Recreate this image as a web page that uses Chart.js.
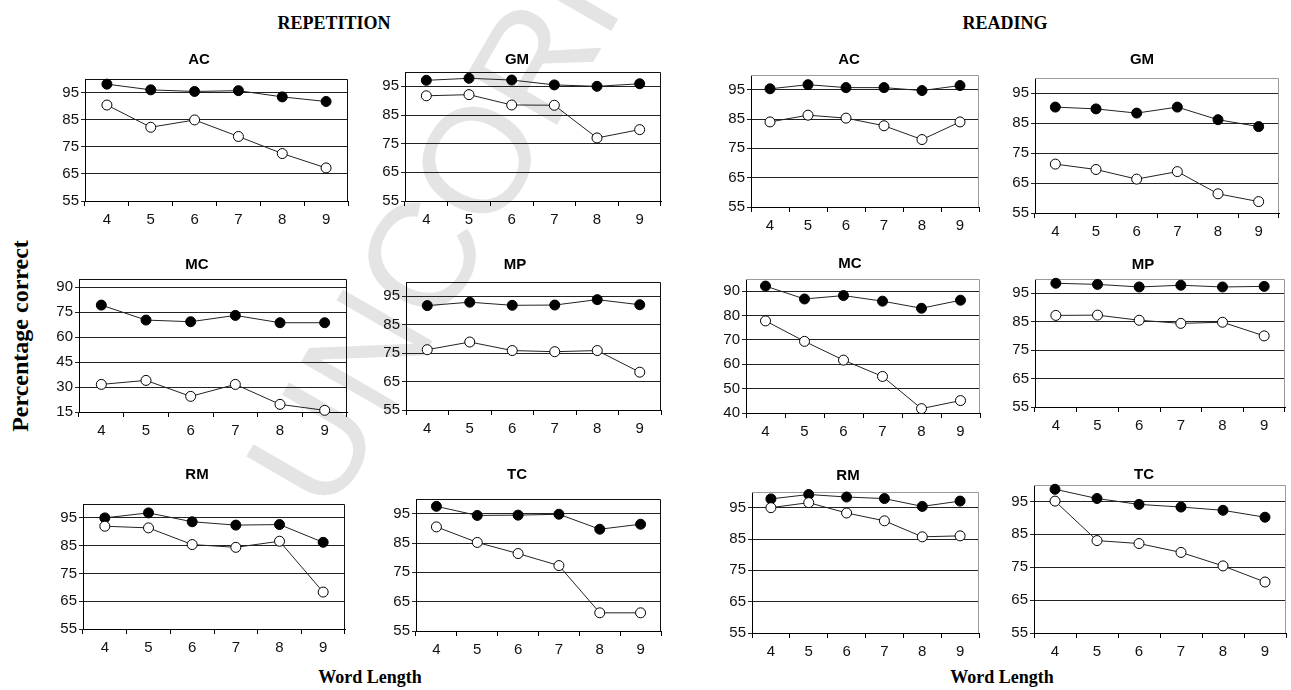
<!DOCTYPE html>
<html>
<head>
<meta charset="utf-8">
<script src="https://cdn.jsdelivr.net/npm/chart.js@4.4.1/dist/chart.umd.min.js"></script>
<style>
  html, body { margin: 0; padding: 0; background: #fff; }
  #page { position: relative; width: 1291px; height: 690px; overflow: hidden; background: #fff; }
  #watermark { position: absolute; left: 0; top: 0; }
  canvas { position: absolute; }
  .lbl { position: absolute; transform: translate(-50%, -50%); white-space: nowrap; line-height: 1; color: #000; }
  .head { font: bold 18px 'Liberation Serif', 'Times New Roman', serif; }
  .ytitle { font: bold 24px 'Liberation Serif', 'Times New Roman', serif; transform: translate(-50%, -50%) rotate(-90deg); }
  .ptitle { font: bold 15px 'Liberation Sans', Arial, sans-serif; }
</style>
</head>
<body>
<div id="page">
  <svg id="watermark" width="1291" height="690">
    <text transform="translate(330,518) rotate(-60)" font-family="Liberation Sans, Arial, sans-serif" font-size="150" fill="#e4e4e4">UNCORRECTED PROOF</text>
  </svg>
  <div class="lbl head" style="left:334px; top:23px;">REPETITION</div>
  <div class="lbl head" style="left:1005px; top:23px;">READING</div>
  <div class="lbl ytitle" style="left:20px; top:336px;">Percentage correct</div>
  <div class="lbl head" style="left:370px; top:677px;">Word Length</div>
  <div class="lbl head" style="left:1002px; top:677px;">Word Length</div>
</div>
<script>
// Word length categories on every x axis
const wordLengths = ['4', '5', '6', '7', '8', '9'];

// Y tick values
const pctTicks = [55, 65, 75, 85, 95];
const repMcTicks = [15, 30, 45, 60, 75, 90];
const readMcTicks = [40, 50, 60, 70, 80, 90];

// Repetition task (filled = solid markers, open = hollow markers)
const repAcFilled = [98.1, 96.0, 95.4, 95.7, 93.4, 91.7];
const repAcOpen   = [90.4, 82.2, 84.9, 78.8, 72.5, 67.2];
const repGmFilled = [97.1, 97.8, 97.2, 95.5, 95.0, 95.9];
const repGmOpen   = [91.7, 92.1, 88.5, 88.4, 77.0, 79.9];
const repMcFilled = [79.3, 70.3, 69.3, 73.1, 68.7, 68.7];
const repMcOpen   = [31.6, 34.0, 24.4, 31.6, 19.6, 16.0];
const repMpFilled = [91.7, 92.9, 91.8, 91.9, 93.8, 92.0];
const repMpOpen   = [76.2, 78.9, 75.9, 75.5, 75.9, 68.3];
const repRmFilled = [95.0, 96.8, 93.6, 92.4, 92.6, 86.2];
const repRmOpen   = [92.0, 91.4, 85.4, 84.4, 86.6, 68.3];
const repTcFilled = [97.5, 94.4, 94.5, 94.8, 89.7, 91.4];
const repTcOpen   = [90.5, 85.2, 81.4, 77.3, 61.2, 61.2];

// Reading task
const readAcFilled = [95.3, 96.7, 95.7, 95.7, 94.7, 96.4];
const readAcOpen   = [84.0, 86.3, 85.3, 82.7, 78.0, 84.0];
const readGmFilled = [90.3, 89.7, 88.3, 90.3, 86.1, 83.8];
const readGmOpen   = [71.3, 69.5, 66.3, 68.8, 61.4, 58.8];
const readMcFilled = [92.1, 86.8, 88.2, 85.9, 83.0, 86.3];
const readMcOpen   = [77.8, 69.4, 61.7, 55.0, 41.8, 45.1];
const readMpFilled = [98.5, 98.1, 97.2, 97.8, 97.2, 97.4];
const readMpOpen   = [87.2, 87.3, 85.5, 84.4, 84.8, 80.0];
const readRmFilled = [97.8, 99.2, 98.4, 97.9, 95.4, 97.1];
const readRmOpen   = [95.0, 96.6, 93.3, 90.8, 85.7, 86.0];
const readTcFilled = [98.7, 95.9, 94.1, 93.3, 92.3, 90.2];
const readTcOpen   = [95.1, 83.1, 82.2, 79.5, 75.4, 70.5];

// Panel layout: plot box [left, top, right, bottom] and title centre
const REP_FRAME = '#111';
const READ_FRAME = '#9a9a9a';
const panels = [
  { title: 'AC', filled: repAcFilled,  open: repAcOpen,  ticks: pctTicks,    min: 55, max: 100, box: [85, 79, 348, 201],    tx: 199,  ty: 58,  frame: REP_FRAME },
  { title: 'GM', filled: repGmFilled,  open: repGmOpen,  ticks: pctTicks,    min: 55, max: 100, box: [405, 72, 661, 201],   tx: 517,  ty: 58,  frame: REP_FRAME },
  { title: 'AC', filled: readAcFilled, open: readAcOpen, ticks: pctTicks,    min: 55, max: 100, box: [751, 75, 979, 207],   tx: 849,  ty: 58,  frame: READ_FRAME },
  { title: 'GM', filled: readGmFilled, open: readGmOpen, ticks: pctTicks,    min: 55, max: 100, box: [1035, 78, 1279, 213], tx: 1142, ty: 58,  frame: READ_FRAME },
  { title: 'MC', filled: repMcFilled,  open: repMcOpen,  ticks: repMcTicks,  min: 15, max: 95,  box: [79, 279, 347, 412],   tx: 197,  ty: 263, frame: REP_FRAME },
  { title: 'MP', filled: repMpFilled,  open: repMpOpen,  ticks: pctTicks,    min: 55, max: 100, box: [406, 282, 661, 410],  tx: 515,  ty: 263, frame: REP_FRAME },
  { title: 'MC', filled: readMcFilled, open: readMcOpen, ticks: readMcTicks, min: 40, max: 95,  box: [746, 279, 980, 413],  tx: 850,  ty: 262, frame: READ_FRAME },
  { title: 'MP', filled: readMpFilled, open: readMpOpen, ticks: pctTicks,    min: 55, max: 100, box: [1035, 279, 1285, 407],tx: 1143, ty: 263, frame: READ_FRAME },
  { title: 'RM', filled: repRmFilled,  open: repRmOpen,  ticks: pctTicks,    min: 55, max: 100, box: [83, 504, 345, 629],   tx: 197,  ty: 473, frame: REP_FRAME },
  { title: 'TC', filled: repTcFilled,  open: repTcOpen,  ticks: pctTicks,    min: 55, max: 100, box: [416, 499, 661, 631],  tx: 517,  ty: 473, frame: REP_FRAME },
  { title: 'RM', filled: readRmFilled, open: readRmOpen, ticks: pctTicks,    min: 55, max: 100, box: [752, 492, 979, 633],  tx: 848,  ty: 474, frame: READ_FRAME },
  { title: 'TC', filled: readTcFilled, open: readTcOpen, ticks: pctTicks,    min: 55, max: 100, box: [1034, 485, 1286, 633],tx: 1144, ty: 473, frame: READ_FRAME }
];

const SANS = "'Liberation Sans', Arial, sans-serif";
Chart.defaults.font.family = SANS;

// Top and right edges of the plot area
const framePlugin = {
  id: 'frame',
  beforeDatasetsDraw(chart, args, opts) {
    const { ctx, chartArea: { left, top, right, bottom } } = chart;
    ctx.save();
    ctx.strokeStyle = opts.color;
    ctx.lineWidth = 1;
    ctx.beginPath();
    ctx.moveTo(Math.round(left), Math.round(top) + 0.5);
    ctx.lineTo(Math.round(right) - 0.5, Math.round(top) + 0.5);
    ctx.lineTo(Math.round(right) - 0.5, Math.round(bottom));
    ctx.stroke();
    ctx.restore();
  }
};

const page = document.getElementById('page');

function seriesStyle(values, fill) {
  return {
    data: values,
    borderColor: '#222',
    borderWidth: 1,
    pointRadius: 5,
    pointBackgroundColor: fill,
    pointBorderColor: '#000',
    pointBorderWidth: 1,
    tension: 0,
    clip: false
  };
}

function makePanel(p) {
  const [L, T, R, B] = p.box;
  const padL = 45, padT = 15, padR = 10, padB = 35;
  const w = R - L + padL + padR;
  const h = B - T + padT + padB;

  const cv = document.createElement('canvas');
  cv.width = w; cv.height = h;
  cv.style.left = (L - padL) + 'px';
  cv.style.top = (T - padT) + 'px';
  cv.style.width = w + 'px';
  cv.style.height = h + 'px';
  page.appendChild(cv);

  const title = document.createElement('div');
  title.className = 'lbl ptitle';
  title.style.left = p.tx + 'px';
  title.style.top = p.ty + 'px';
  title.textContent = p.title;
  page.appendChild(title);

  new Chart(cv, {
    type: 'line',
    data: {
      labels: wordLengths,
      // hollow series listed first so it is painted above the solid one
      datasets: [seriesStyle(p.open, '#fff'), seriesStyle(p.filled, '#000')]
    },
    options: {
      responsive: false,
      animation: false,
      devicePixelRatio: 1,
      events: [],
      layout: { padding: { left: 0, top: padT, right: padR, bottom: 0 } },
      plugins: {
        legend: { display: false },
        tooltip: { enabled: false },
        frame: { color: p.frame }
      },
      scales: {
        x: {
          type: 'category',
          offset: true,
          grid: { display: true, offset: true, drawOnChartArea: false, drawTicks: true, tickLength: 5, color: '#000' },
          border: { display: true, color: '#000', width: 1 },
          ticks: { font: { size: 15 }, color: '#111', padding: 5, maxRotation: 0, autoSkip: false },
          afterFit: s => { s.height = padB; }
        },
        y: {
          type: 'linear',
          min: p.min,
          max: p.max,
          grid: { color: '#222', lineWidth: 1, drawTicks: true, tickLength: 4 },
          border: { display: true, color: '#000', width: 1 },
          ticks: { font: { size: 15 }, color: '#111', padding: 2 },
          afterBuildTicks: s => { s.ticks = p.ticks.map(v => ({ value: v })); },
          afterFit: s => { s.width = padL; }
        }
      }
    },
    plugins: [framePlugin]
  });
}

panels.forEach(makePanel);
</script>
</body>
</html>
